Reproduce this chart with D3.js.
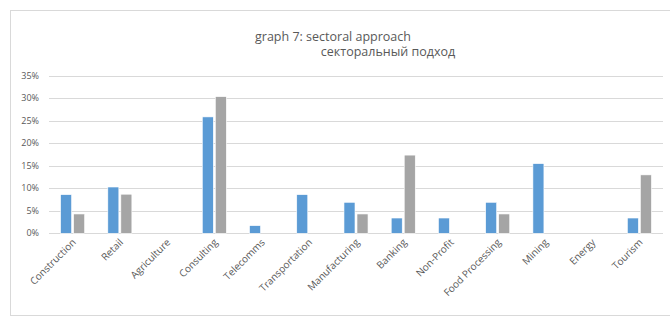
<!DOCTYPE html>
<html>
<head>
  <meta charset="utf-8">
  <title>graph 7</title>
  <style>
    body { margin: 0; background: #fff; }
    text { font-family: "Open Sans", sans-serif; fill: #595959; }
    .tick-y { font-size: 9px; }
    .tick-x { font-size: 10px; }
    .title { font-size: 12.5px; }
  </style>
  <script src="https://cdn.jsdelivr.net/npm/d3@7"></script>
</head>
<body>
<script>
  var categories = ['Construction', 'Retail', 'Agriculture', 'Consulting', 'Telecomms',
    'Transportation', 'Manufacturing', 'Banking', 'Non-Profit', 'Food Processing',
    'Mining', 'Energy', 'Tourism'];
  var seriesNames = ['s1', 's2'];
  var blueValues = [0.086, 0.103, 0, 0.259, 0.017, 0.086, 0.069, 0.034, 0.034, 0.069, 0.155, 0, 0.034];
  var grayValues = [0.043, 0.087, 0, 0.304, 0, 0, 0.043, 0.174, 0, 0.043, 0, 0, 0.130];
  var yTicks = [0, 0.05, 0.10, 0.15, 0.20, 0.25, 0.30, 0.35];

  var colors = { s1: '#5b9bd5', s2: '#a5a5a5' };

  var width = 670, height = 317;
  var svg = d3.select('body').append('svg')
    .attr('width', width)
    .attr('height', height);

  // chart frame
  svg.append('rect')
    .attr('x', 10.5)
    .attr('y', 10.5)
    .attr('width', 670)
    .attr('height', 305)
    .attr('fill', 'none')
    .attr('stroke', '#d9d9d9');

  svg.append('text')
    .attr('class', 'title')
    .attr('x', 333)
    .attr('y', 41)
    .attr('text-anchor', 'middle')
    .text('graph 7: sectoral approach');
  svg.append('text')
    .attr('class', 'title')
    .attr('x', 388)
    .attr('y', 56)
    .attr('text-anchor', 'middle')
    .text('секторальный подход');

  var x = d3.scaleBand()
    .domain(categories)
    .range([49, 663]);

  var x1 = d3.scaleBand()
    .domain(seriesNames)
    .range([0, x.bandwidth()])
    .paddingInner(0.154)
    .paddingOuter(0.89);

  var y = d3.scaleLinear()
    .domain([0, 0.35])
    .range([233.3, 76]);

  // gridlines
  svg.append('g')
    .selectAll('line')
    .data(yTicks)
    .enter()
    .append('line')
    .attr('x1', 49)
    .attr('x2', 663)
    .attr('y1', function(d) { return Math.round(y(d)) + 0.5; })
    .attr('y2', function(d) { return Math.round(y(d)) + 0.5; })
    .attr('stroke', '#d9d9d9')
    .attr('stroke-width', 1);

  svg.append('g')
    .selectAll('text')
    .data(yTicks)
    .enter()
    .append('text')
    .attr('class', 'tick-y')
    .attr('x', 39)
    .attr('y', function(d) { return y(d) + 3; })
    .attr('text-anchor', 'end')
    .text(d3.format('.0%'));

  var groups = svg.append('g')
    .selectAll('g')
    .data(categories)
    .enter()
    .append('g')
    .attr('transform', function(d) { return 'translate(' + x(d) + ',0)'; });

  groups.selectAll('rect')
    .data(function(d, i) {
      return [
        { key: 's1', value: blueValues[i] },
        { key: 's2', value: grayValues[i] }
      ];
    })
    .enter()
    .filter(function(d) { return d.value > 0; })
    .append('rect')
    .attr('x', function(d) { return x1(d.key); })
    .attr('width', x1.bandwidth())
    .attr('y', function(d) { return y(d.value); })
    .attr('height', function(d) { return y(0) - y(d.value); })
    .attr('fill', function(d) { return colors[d.key]; })
    .attr('stroke', '#ffffff')
    .attr('stroke-width', 0.6);

  // category labels
  svg.append('g')
    .selectAll('text')
    .data(categories)
    .enter()
    .append('text')
    .attr('class', 'tick-x')
    .attr('text-anchor', 'end')
    .attr('transform', function(d) {
      var cx = x(d) + x.bandwidth() / 2 + 4;
      return 'translate(' + cx + ',243) rotate(-45)';
    })
    .text(function(d) { return d; });
</script>
</body>
</html>
